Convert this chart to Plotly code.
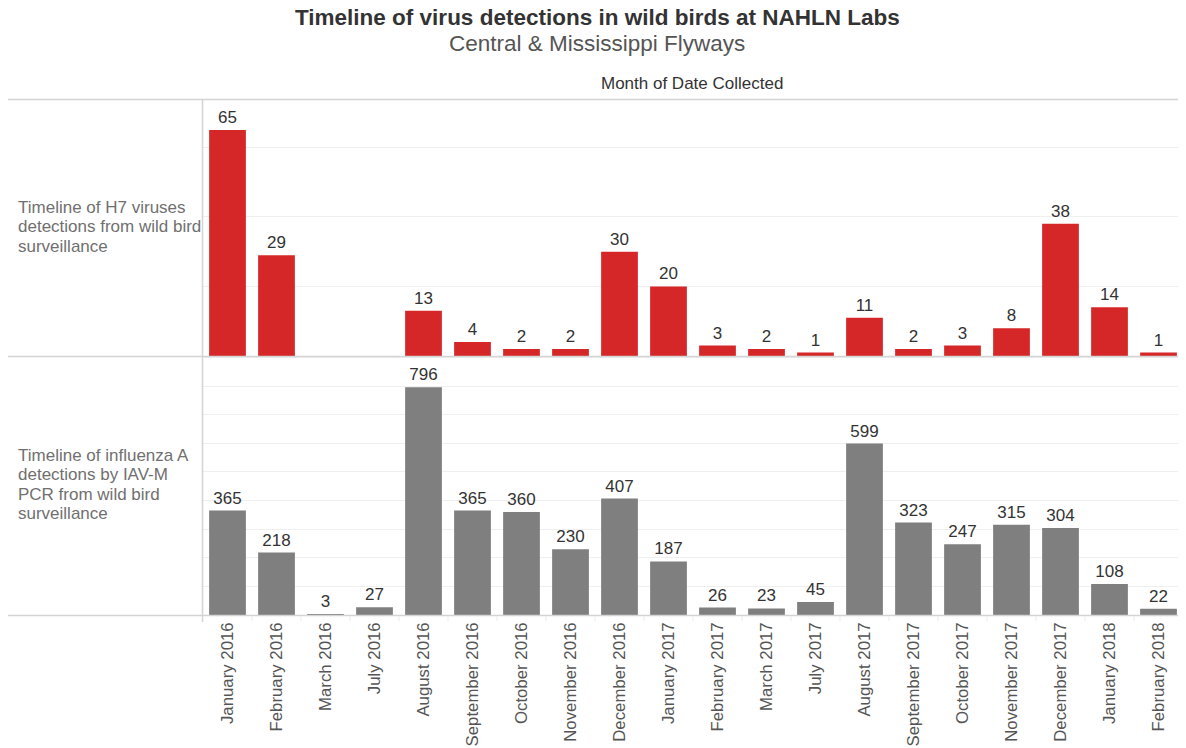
import plotly.graph_objects as go
from plotly.subplots import make_subplots

months = ["January 2016", "February 2016", "March 2016", "July 2016", "August 2016",
          "September 2016", "October 2016", "November 2016", "December 2016",
          "January 2017", "February 2017", "March 2017", "July 2017", "August 2017",
          "September 2017", "October 2017", "November 2017", "December 2017",
          "January 2018", "February 2018"]
h7_values = [65, 29, None, None, 13, 4, 2, 2, 30, 20, 3, 2, 1, 11, 2, 3, 8, 38, 14, 1]
iav_values = [365, 218, 3, 27, 796, 365, 360, 230, 407, 187, 26, 23, 45, 599, 323, 247, 315, 304, 108, 22]

h7_label = ["Timeline of H7 viruses", "detections from wild bird", "surveillance"]
iav_label = ["Timeline of influenza A", "detections by IAV-M", "PCR from wild bird", "surveillance"]

# The page body has a default 8px margin; reference pixel coords are shifted by OFF.
OFF = 8
W, H = 1186 - OFF, 748 - OFF
L = 203 - OFF
T = 100 - OFF
plot_bottom = 615 - OFF
plot_right = 1183 - OFF
R = W - plot_right
B = H - plot_bottom
PW, PH = W - L - R, H - T - B
split = 615 - 356  # bottom panel height in px

FONT = "Arial, Liberation Sans, sans-serif"

fig = make_subplots(rows=2, cols=1, shared_xaxes=True, vertical_spacing=0)

text_font = dict(family=FONT, size=17, color="#333333")

fig.add_trace(go.Bar(x=months, y=h7_values, marker=dict(color="#D62728", line=dict(width=0)),
                     text=[("" if v is None else str(v)) for v in h7_values],
                     textposition="outside", textfont=text_font, cliponaxis=False,
                     showlegend=False, hoverinfo="x+y"), row=1, col=1)
fig.add_trace(go.Bar(x=months, y=iav_values, marker=dict(color="#7F7F7F", line=dict(width=0)),
                     text=[str(v) for v in iav_values],
                     textposition="outside", textfont=text_font, cliponaxis=False,
                     showlegend=False, hoverinfo="x+y"), row=2, col=1)

fig.update_layout(
    width=W, height=H,
    margin=dict(l=L, r=R, t=T, b=B, pad=0),
    paper_bgcolor="white", plot_bgcolor="white",
    bargap=0.25,
    font=dict(family=FONT, color="#555555"),
    uniformtext=dict(minsize=8, mode="show"),
    yaxis=dict(domain=[split / PH, 1], range=[0, 73.6], showticklabels=False,
               showgrid=True, gridcolor="#EFEFEF", dtick=20, zeroline=False, ticks=""),
    yaxis2=dict(domain=[0, split / PH], range=[0, 905], showticklabels=False,
                showgrid=True, gridcolor="#EFEFEF", dtick=100, zeroline=False, ticks=""),
    xaxis=dict(showticklabels=False, showgrid=False, ticks=""),
    xaxis2=dict(tickangle=-90, tickfont=dict(size=16.8, color="#555555", family=FONT),
                showgrid=False, ticks="", ticklabelstandoff=3),
)


def px(x):
    return (x - OFF - L) / PW


def py(y):
    return (H - B - (y - OFF)) / PH


line_col = "#D4D4D4"
shapes = [
    dict(x0=px(8), x1=px(1183), y0=py(99.5), y1=py(99.5)),
    dict(x0=px(8), x1=px(1183), y0=py(356.5), y1=py(356.5)),
    dict(x0=px(8), x1=px(1183), y0=py(615.5), y1=py(615.5)),
    dict(x0=px(202.5), x1=px(202.5), y0=py(99.5), y1=py(622)),
    dict(x0=px(1183), x1=px(1183), y0=py(99.5), y1=py(356.5)),
]
for s in shapes:
    fig.add_shape(type="line", xref="paper", yref="paper", layer="above",
                  line=dict(color=line_col, width=1.5), **s)

n = len(months)
for i in range(1, n):
    xb = 203 + i * (1183 - 203) / n
    fig.add_shape(type="line", xref="paper", yref="paper", layer="above",
                  x0=px(xb), x1=px(xb), y0=py(616), y1=py(621),
                  line=dict(color="#EBEBEB", width=1))

fig.add_annotation(text="<b>Timeline of virus detections in wild birds at NAHLN Labs</b>",
                   xref="paper", yref="paper", x=px(597), y=py(17), xanchor="center", yanchor="middle",
                   showarrow=False, font=dict(size=22.5, color="#333333", family=FONT))
fig.add_annotation(text="Central & Mississippi Flyways",
                   xref="paper", yref="paper", x=px(597), y=py(44), xanchor="center", yanchor="middle",
                   showarrow=False, font=dict(size=22.5, color="#555555", family=FONT))
fig.add_annotation(text="Month of Date Collected",
                   xref="paper", yref="paper", x=px(692), y=py(84), xanchor="center", yanchor="middle",
                   showarrow=False, font=dict(size=17, color="#333333", family=FONT))

for i, line in enumerate(h7_label):
    fig.add_annotation(text=line, xref="paper", yref="paper", x=px(16), y=py(207 + i * 19.6),
                       xanchor="left", yanchor="middle", align="left", showarrow=False,
                       font=dict(size=17, color="#707070", family=FONT))
for i, line in enumerate(iav_label):
    fig.add_annotation(text=line, xref="paper", yref="paper", x=px(16), y=py(455 + i * 19.6),
                       xanchor="left", yanchor="middle", align="left", showarrow=False,
                       font=dict(size=17, color="#707070", family=FONT))

fig.write_html("out.html")
